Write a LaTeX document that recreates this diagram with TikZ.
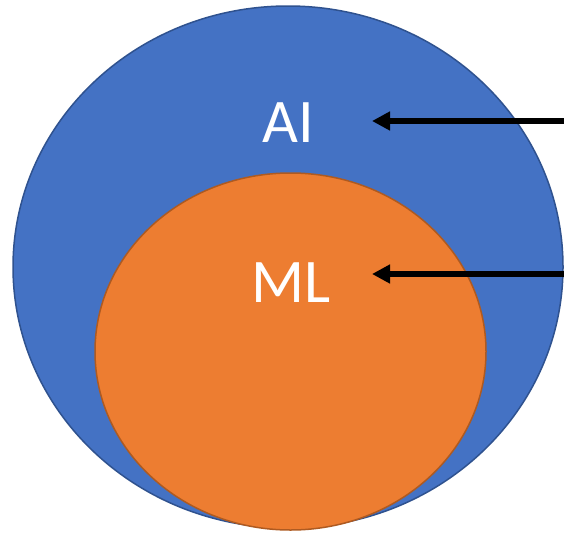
\documentclass[tikz,border=0pt]{standalone}
\usepackage{fontspec}
\setmainfont{Carlito}
\usetikzlibrary{shapes.geometric,arrows.meta}
\definecolor{aiblue}{HTML}{4472C4}
\definecolor{aiborder}{HTML}{2F528F}
\definecolor{mlorange}{HTML}{ED7D31}
\definecolor{mlborder}{HTML}{AE5A21}
\tikzset{
  region/.style={ellipse, inner sep=0pt, outer sep=0pt, line width=1.5pt},
  label/.style={text=white, font=\fontsize{62}{62}\selectfont, inner sep=0pt, anchor=center},
  pointer/.style={line width=6pt, -{Triangle[length=18pt,width=18pt]}}
}
\begin{document}
\begin{tikzpicture}[x=1pt,y=-1pt]
\useasboundingbox (0,0) rectangle (564,533);
\node[region, draw=aiborder, fill=aiblue, minimum width=550pt, minimum height=522pt] (ai) at (288,267) {};
\node[region, draw=mlborder, fill=mlorange, minimum width=391pt, minimum height=357pt] (ml) at (290.5,351.5) {};
\node[label] (ait) at (288,123) {AI};
\node[label] (mlt) at (291,283) {ML};
\coordinate (s1) at (566,121);
\coordinate (t1) at (372,121);
\coordinate (s2) at (566,274);
\coordinate (t2) at (372,274);
\draw[pointer] (s1) -- (t1);
\draw[pointer] (s2) -- (t2);
\end{tikzpicture}
\end{document}
